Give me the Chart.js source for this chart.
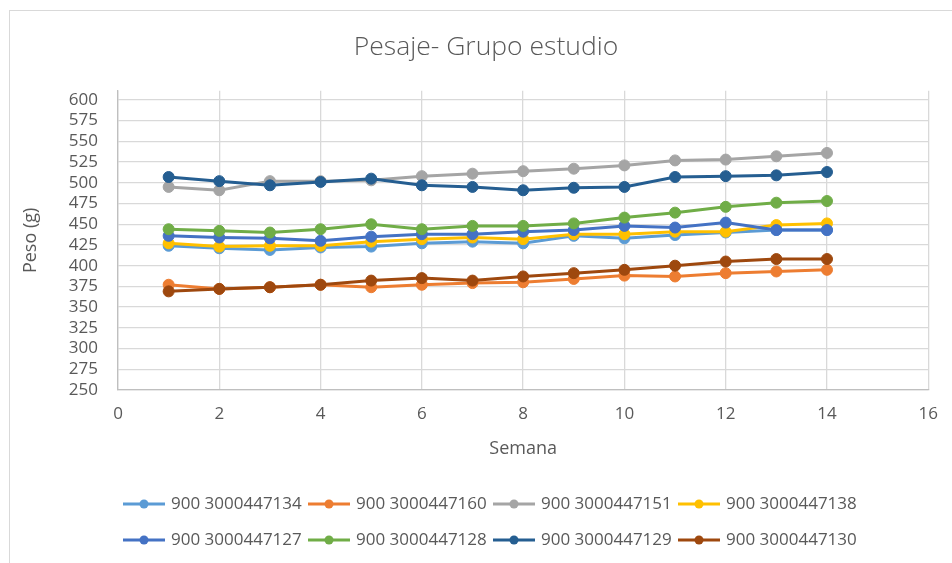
<!DOCTYPE html>
<html lang="es">
<head>
<meta charset="utf-8">
<title>Pesaje- Grupo estudio</title>
<script src="https://cdn.jsdelivr.net/npm/chart.js@4.4.1/dist/chart.umd.min.js"></script>
<style>
  html, body { margin: 0; padding: 0; background: #fff; }
  #wrap { position: relative; width: 952px; height: 563px; overflow: hidden; }
  #frame { position: absolute; left: 9px; top: 10px; width: 1000px; height: 600px; border: 1px solid #D9D9D9; }
  #chart { position: absolute; left: 0; top: 0; }
</style>
</head>
<body>
<div id="wrap">
  <div id="frame"></div>
  <canvas id="chart" width="952" height="563"></canvas>
</div>
<script>
// Semanas y pesos (g)
const semanas = [1, 2, 3, 4, 5, 6, 7, 8, 9, 10, 11, 12, 13, 14];
const marcasY = [250, 275, 300, 325, 350, 375, 400, 425, 450, 475, 500, 525, 550, 575, 600];

const nombres = [
  '900 3000447134', '900 3000447160', '900 3000447151', '900 3000447138',
  '900 3000447127', '900 3000447128', '900 3000447129', '900 3000447130'
];

const p134 = [424, 421, 419, 422, 423, 427, 429, 427, 436, 433, 437, 440, 443, 443];
const p160 = [377, 372, 374, 377, 374, 377, 379, 380, 384, 388, 387, 391, 393, 395];
const p151 = [495, 491, 502, 502, 503, 508, 511, 514, 517, 521, 527, 528, 532, 536];
const p138 = [427, 423, 424, 424, 429, 432, 434, 432, 438, 438, 441, 441, 449, 451];
const p127 = [436, 434, 433, 430, 435, 438, 438, 441, 443, 448, 446, 452, 443, 443];
const p128 = [444, 442, 440, 444, 450, 444, 448, 448, 451, 458, 464, 471, 476, 478];
const p129 = [507, 502, 497, 501, 505, 497, 495, 491, 494, 495, 507, 508, 509, 513];
const p130 = [369, 372, 374, 377, 382, 385, 382, 387, 391, 395, 400, 405, 408, 408];

const series = [p134, p160, p151, p138, p127, p128, p129, p130];
const colores = ['#5B9BD5', '#ED7D31', '#A5A5A5', '#FFC000', '#4472C4', '#70AD47', '#255E91', '#9E480E'];

const TEXTO = '#595959';
const FUENTE = "'Open Sans', 'DejaVu Sans', sans-serif";

// Leyenda estilo Excel: línea con punto, 4 columnas
const leyendaExcel = {
  id: 'leyendaExcel',
  afterDraw(chart) {
    const ctx = chart.ctx;
    const x0 = chart.chartArea.left + 5;
    const filas = [chart.height - 59, chart.height - 23];
    ctx.save();
    ctx.font = '17px ' + FUENTE;
    ctx.textBaseline = 'middle';
    ctx.textAlign = 'left';
    chart.data.datasets.forEach((ds, i) => {
      const x = x0 + (i % 4) * 185;
      const y = filas[Math.floor(i / 4)];
      ctx.strokeStyle = ds.borderColor;
      ctx.lineWidth = 3;
      ctx.beginPath();
      ctx.moveTo(x, y);
      ctx.lineTo(x + 42, y);
      ctx.stroke();
      ctx.fillStyle = ds.borderColor;
      ctx.beginPath();
      ctx.arc(x + 21, y, 4.5, 0, Math.PI * 2);
      ctx.fill();
      ctx.fillStyle = TEXTO;
      ctx.fillText(ds.label, x + 48, y);
    });
    ctx.restore();
  }
};

const datasets = series.map((valores, i) => ({
  label: nombres[i],
  data: semanas.map((s, k) => ({ x: s, y: valores[k] })),
  borderColor: colores[i],
  backgroundColor: colores[i],
  pointBackgroundColor: colores[i],
  pointBorderColor: colores[i],
  borderWidth: 3,
  pointRadius: 5.5,
  pointBorderWidth: 1,
  tension: 0,
  order: series.length - i   // la última serie queda encima, como en Excel
}));

new Chart(document.getElementById('chart'), {
  type: 'line',
  data: { datasets },
  plugins: [leyendaExcel],
  options: {
    responsive: false,
    animation: false,
    layout: { padding: { left: 20, right: 0, top: 10, bottom: 103 } },
    plugins: {
      legend: { display: false },
      tooltip: { enabled: false },
      title: {
        display: true,
        text: 'Pesaje- Grupo estudio',
        color: TEXTO,
        font: { family: FUENTE, size: 26.5, weight: '300', lineHeight: 1.2 },
        padding: { top: 22, bottom: 27 }
      }
    },
    scales: {
      x: {
        type: 'linear',
        min: 0,
        max: 16,
        ticks: { stepSize: 2, color: TEXTO, padding: 14, font: { family: FUENTE, size: 17 } },
        grid: { color: '#D9D9D9', lineWidth: 1.3, drawTicks: false },
        border: { color: '#BFBFBF', width: 1.3 },
        title: {
          display: true, text: 'Semana', color: TEXTO,
          font: { family: FUENTE, size: 18 }, padding: { top: 0, bottom: 0 }
        }
      },
      y: {
        min: 250,
        max: 611,
        ticks: { autoSkip: false, color: TEXTO, padding: 20, font: { family: FUENTE, size: 17 } },
        afterBuildTicks: (scale) => { scale.ticks = marcasY.map(v => ({ value: v })); },
        afterFit: (scale) => { scale.width = 98; },
        grid: { color: '#D9D9D9', lineWidth: 1.3, drawTicks: false },
        border: { color: '#BFBFBF', width: 1.3 },
        title: {
          display: true, text: 'Peso (g)', color: TEXTO,
          font: { family: FUENTE, size: 18 }, padding: 0
        }
      },
      // eje vacío a la derecha solo para dejar el margen del área de trazado
      y2: {
        position: 'right',
        display: true,
        ticks: { display: false },
        grid: { display: false },
        border: { display: false },
        afterFit: (scale) => { scale.width = 18; }
      }
    }
  }
});
</script>
</body>
</html>
